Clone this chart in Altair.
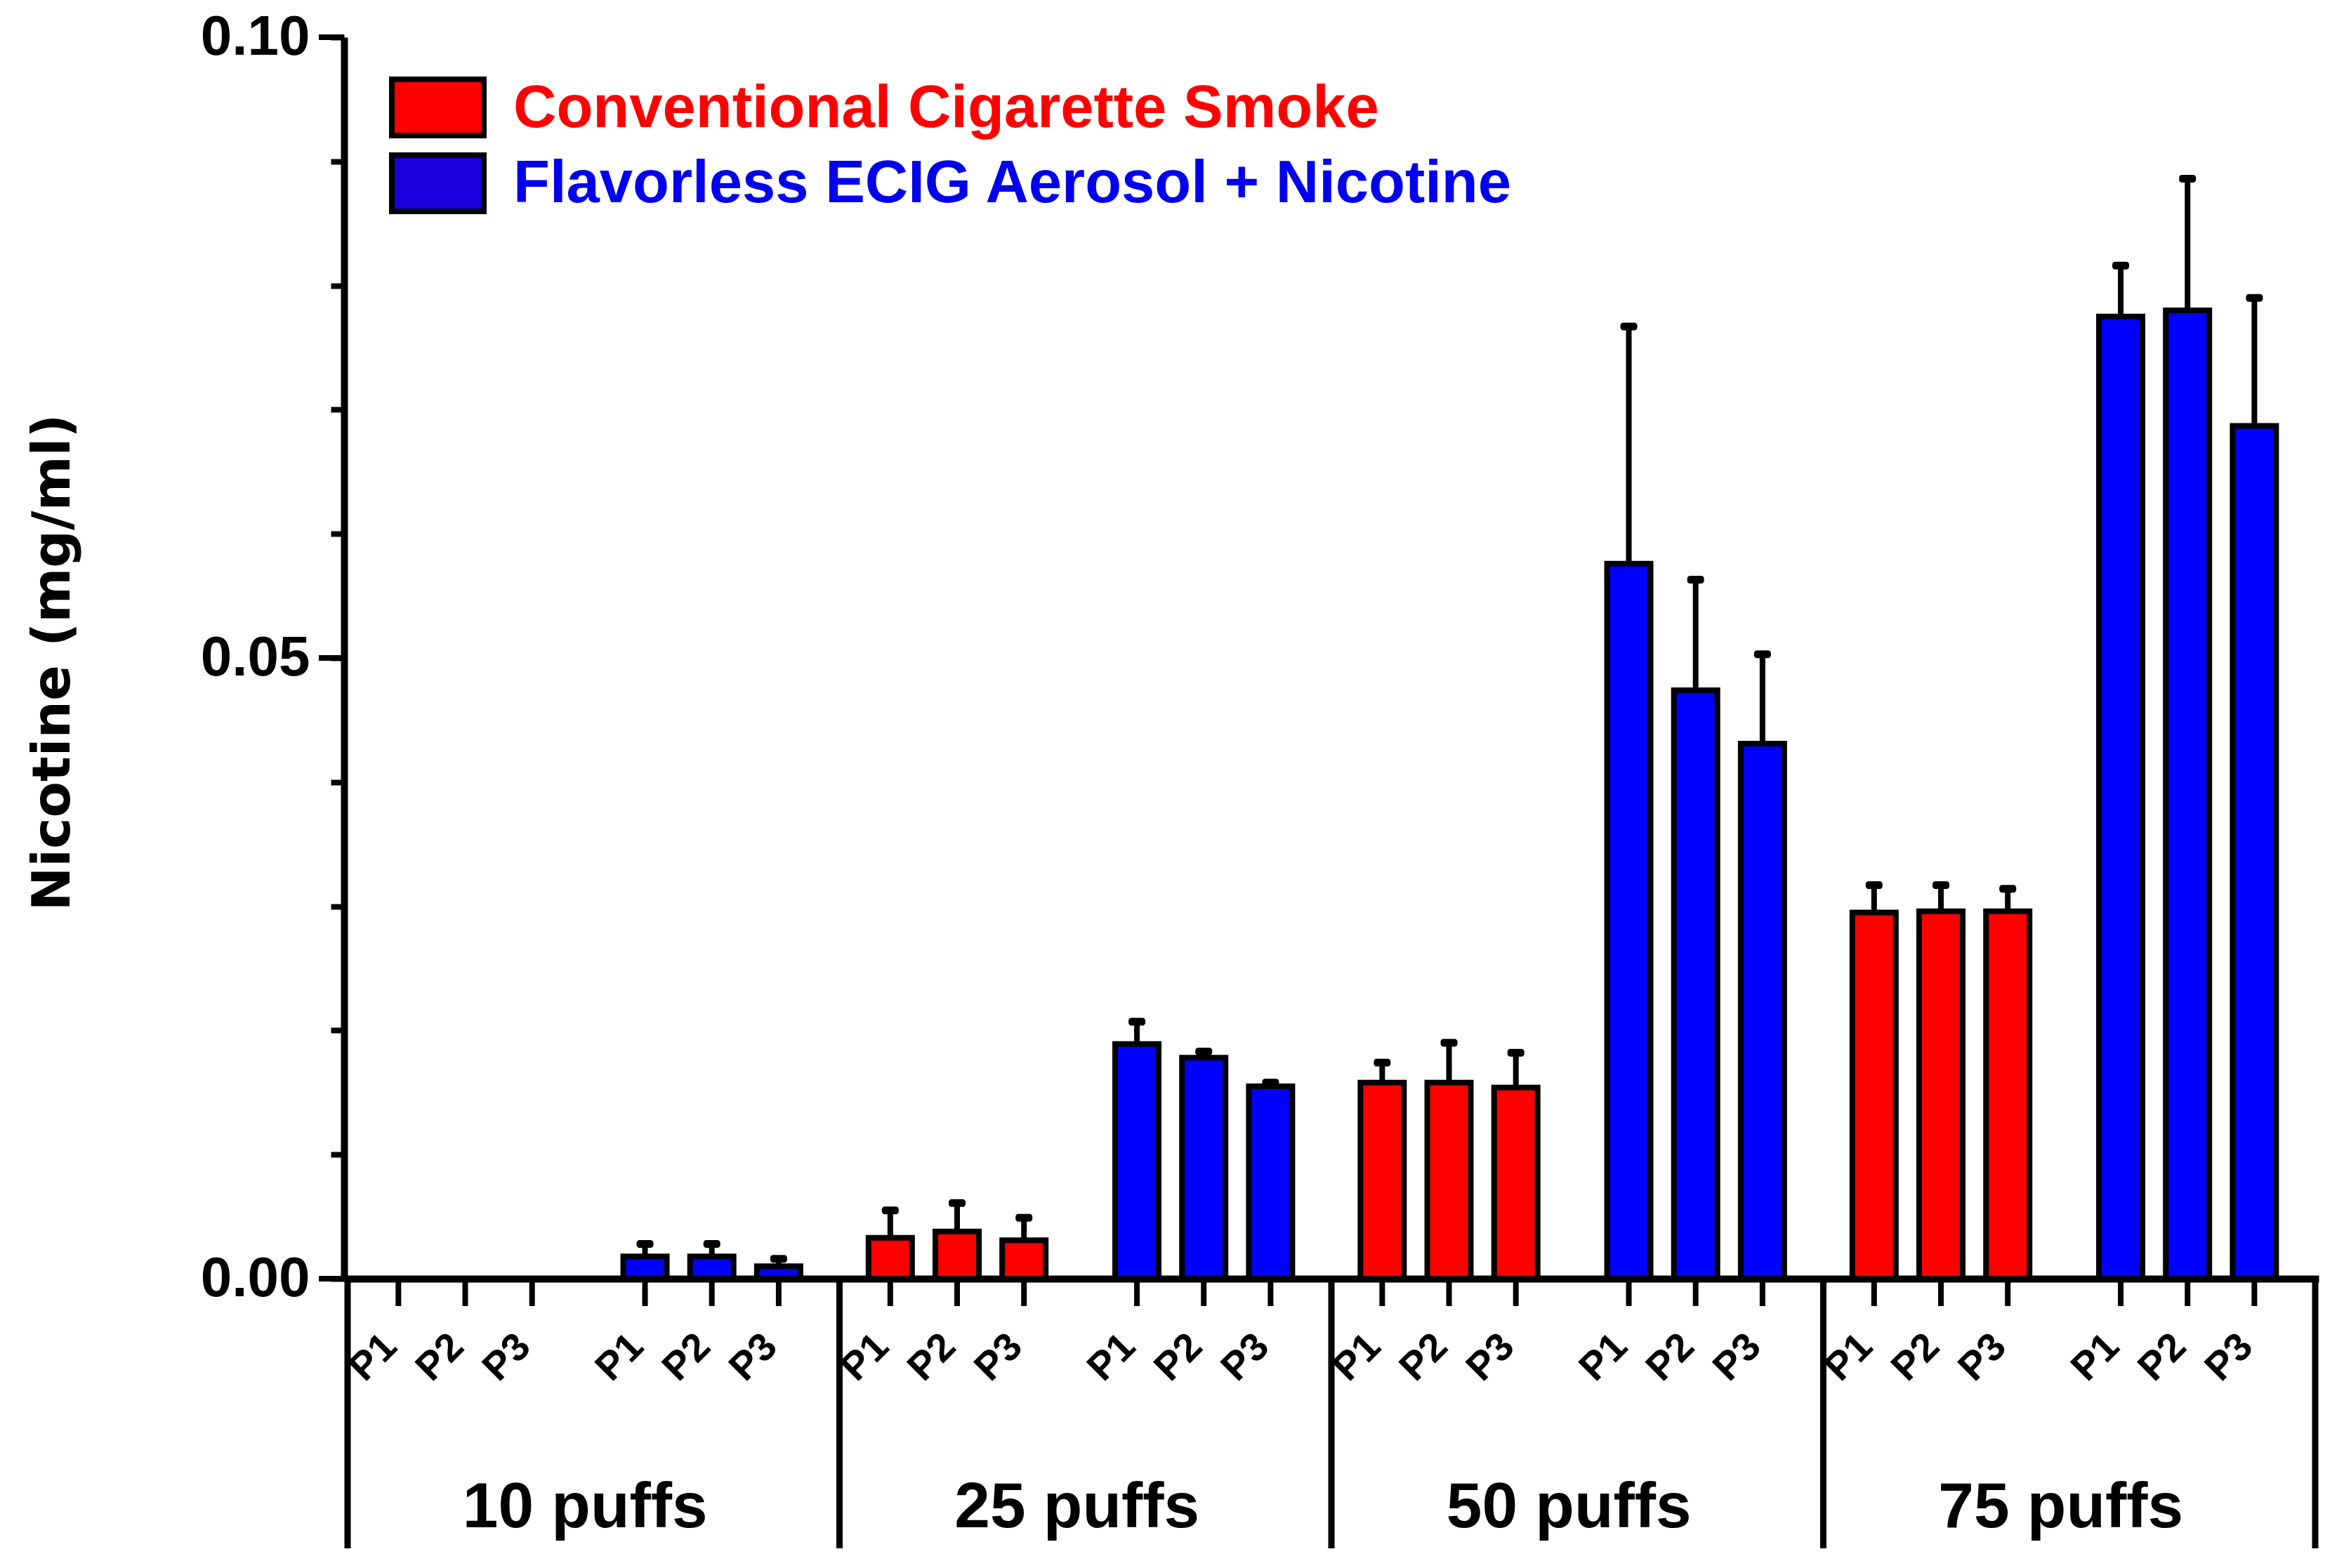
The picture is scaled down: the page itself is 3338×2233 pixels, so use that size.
import altair as alt
import pandas as pd

# ---------------- data ----------------
puffs = ["10 puffs", "25 puffs", "50 puffs", "75 puffs"]
samples = ["P1", "P2", "P3"]
series = ["Conventional Cigarette Smoke", "Flavorless ECIG Aerosol + Nicotine"]

# means (mg/ml), order: 10 puffs P1..P3, 25 puffs P1..P3, 50 puffs ..., 75 puffs ...
conv_mean = [0.0, 0.0, 0.0, 0.0033, 0.0038, 0.0031, 0.0158, 0.0158, 0.0154, 0.0295, 0.0296, 0.0296]
conv_upper = [0.0, 0.0, 0.0, 0.0055, 0.0061, 0.0049, 0.0174, 0.0190, 0.0182, 0.0317, 0.0317, 0.0314]
ecig_mean = [0.0018, 0.0018, 0.0010, 0.0189, 0.0178, 0.0155, 0.0576, 0.0474, 0.0431, 0.0775, 0.0780, 0.0687]
ecig_upper = [0.0028, 0.0028, 0.0016, 0.0207, 0.0183, 0.0158, 0.0767, 0.0563, 0.0503, 0.0816, 0.0886, 0.0790]

y_ticks = [round(i / 100, 2) for i in range(11)]
y_major = [0.0, 0.05, 0.10]

# ---------------- layout of the categorical x positions ----------------
GROUP_W = 7.36
OFFSETS = {series[0]: [0.76, 1.76, 2.76], series[1]: [4.45, 5.45, 6.45]}

rows = []
for s, means, ups in [(series[0], conv_mean, conv_upper), (series[1], ecig_mean, ecig_upper)]:
    for gi, p in enumerate(puffs):
        for si, smp in enumerate(samples):
            k = gi * 3 + si
            rows.append({
                "puffs": p, "series": s, "sample": smp,
                "pos": gi * GROUP_W + OFFSETS[s][si],
                "mean": means[k], "upper": ups[k],
            })
df = pd.DataFrame(rows)
df_err = df[df["upper"] > 0]

df_groups = pd.DataFrame({"label": puffs, "center": [(i + 0.5) * GROUP_W for i in range(4)]})
df_bounds = pd.DataFrame({"b": [i * GROUP_W for i in range(5)]})
df_major = pd.DataFrame({"v": y_major})
df_legend = pd.DataFrame({"label": series})

W, H = 2812, 1768
YT = "Nicotine (mg/ml)"

xs = alt.Scale(domain=[0, 4 * GROUP_W], nice=False, zero=False)
ys = alt.Scale(domain=[0, 0.1], nice=False)

y_axis = alt.Axis(
    values=y_ticks,
    labelExpr="abs(datum.value*20 - round(datum.value*20)) < 0.001 ? format(datum.value, '.2f') : ''",
    labelOverlap=False, labelFlush=False, labelBound=False,
    tickSize=19, tickWidth=8, tickColor="black",
    domainWidth=10, domainColor="black",
    labelFont="Liberation Sans", labelFontWeight="bold", labelFontSize=80,
    labelColor="black", labelPadding=30,
    title=YT, titleFont="DejaVu Sans", titleFontSize=75, titleFontWeight="bold",
    titleColor="black", titleX=-415, titleY=890, titleAngle=270,
    titleBaseline="middle", titleAlign="center", grid=False,
)
x_axis = alt.Axis(domain=True, domainWidth=10, domainColor="black", ticks=False,
                  labels=False, title=None, grid=False)

bars = alt.Chart(df).mark_bar(size=62, stroke="black", strokeWidth=8, opacity=1).encode(
    x=alt.X("pos:Q", scale=xs, axis=x_axis),
    y=alt.Y("mean:Q", scale=ys, axis=y_axis),
    color=alt.Color("series:N", scale=alt.Scale(domain=series, range=["#FF0000", "#0000FF"]), legend=None),
)

err = alt.Chart(df_err).mark_rule(color="black", strokeWidth=8, opacity=1).encode(
    x=alt.X("pos:Q", scale=xs, title=None),
    y=alt.Y("mean:Q", scale=ys, title=YT),
    y2=alt.Y2("upper:Q"),
)

caps = alt.Chart(df_err).mark_tick(orient="horizontal", color="black", size=24,
                                   thickness=11, cornerRadius=4, opacity=1).encode(
    x=alt.X("pos:Q", scale=xs, title=None),
    y=alt.Y("upper:Q", scale=ys, title=YT),
)

xticks = alt.Chart(df).mark_rule(color="black", strokeWidth=8).encode(
    x=alt.X("pos:Q", scale=xs, title=None),
    y=alt.value(H),
    y2=alt.value(H + 39),
)

seps = alt.Chart(df_bounds).mark_rule(color="black", strokeWidth=9).encode(
    x=alt.X("b:Q", scale=xs, title=None),
    y=alt.value(H),
    y2=alt.value(H + 384),
)

ymaj = alt.Chart(df_major).mark_rule(color="black", strokeWidth=8).encode(
    y=alt.Y("v:Q", scale=ys, title=YT),
    x=alt.value(-36),
    x2=alt.value(0),
)

plabels = alt.Chart(df).mark_text(
    angle=315, align="right", baseline="middle", font="Liberation Sans",
    fontWeight="bold", fontSize=56, color="black", dx=-8, dy=-8,
).encode(
    x=alt.X("pos:Q", scale=xs, title=None),
    y=alt.value(H + 88),
    text="sample:N",
)

glabels = alt.Chart(df_groups).mark_text(
    align="center", baseline="alphabetic", font="Liberation Sans",
    fontWeight="bold", fontSize=91, color="black", dx=-12,
).encode(
    x=alt.X("center:Q", scale=xs, title=None),
    y=alt.value(H + 354),
    text="label:N",
)

leg_layers = []
leg_spec = [
    (series[0], "#FF0000", "#FF0000", 60, 140, 102),
    (series[1], "#1A00DC", "#0000EE", 168, 248, 209),
]
for name, box_col, txt_col, y0, y1, yt in leg_spec:
    base = alt.Chart(df_legend).transform_filter(alt.datum.label == name)
    leg_layers.append(
        base.mark_rect(fill=box_col, stroke="black", strokeWidth=8).encode(
            x=alt.value(68), x2=alt.value(199), y=alt.value(y0), y2=alt.value(y1)
        )
    )
    leg_layers.append(
        base.mark_text(align="left", baseline="middle", font="Liberation Sans",
                       fontWeight="bold", fontSize=85, color=txt_col).encode(
            x=alt.value(241), y=alt.value(yt), text="label:N"
        )
    )

chart = alt.layer(err, caps, bars, xticks, seps, ymaj, plabels, glabels, *leg_layers).properties(
    width=W, height=H,
    autosize=alt.AutoSizeParams(type="none"),
    padding={"left": 482, "top": 45, "right": 28, "bottom": 395},
    background="white",
).configure_view(stroke=None)

chart.save("out.html", embed_options={"renderer": "svg", "actions": False})
